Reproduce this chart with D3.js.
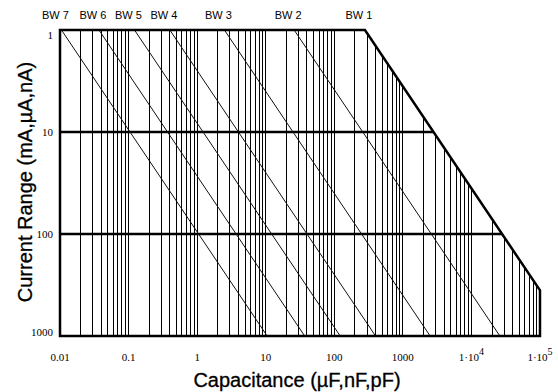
<!DOCTYPE html>
<html>
<head>
<meta charset="utf-8">
<script src="https://cdn.jsdelivr.net/npm/d3@7"></script>
<style>
  body { margin: 0; background: #fff; }
  svg { display: block; }
</style>
</head>
<body>
<svg id="chart" width="558" height="392"></svg>
<script>
// bandwidth lines: capacitance where each one leaves the "1" range
const bwNames = ["BW 1", "BW 2", "BW 3", "BW 4", "BW 5", "BW 6", "BW 7"];
const bwCap = [280, 26, 2.5, 0.4, 0.122, 0.037, 0.0105];

const xTicks = [0.01, 0.1, 1, 10, 100, 1000, 1e4, 1e5];
const xTickLabels = ["0.01", "0.1", "1", "10", "100", "1000", "1·10^4", "1·10^5"];
const yTicks = [1, 10, 100, 1000];
const yTickLabels = ["1", "10", "100", "1000"];
const yGrid = [10, 100];

const xTitle = "Capacitance (µF,nF,pF)";
const yTitle = "Current Range (mA,µA,nA)";

const plot = { left: 60, right: 540, top: 30, bottom: 336 };
const svg = d3.select("#chart");

const x = d3.scaleLog().domain([0.01, 1e5]).range([plot.left, plot.right]);
const y = d3.scaleLog().domain([1, 1000]).range([plot.top, plot.bottom]);
const bw1 = bwCap[0];
const [xMin, xMax] = x.domain();
const [yMin, yMax] = y.domain();

// top edge of the usable area for a capacitance
const limit = c => Math.max(yMin, c / bw1);

addGrid();
addBandLines();
addOutline();
addLabels();

function addGrid() {
    svg.append("g")
        .attr("stroke", "#000")
        .attr("stroke-width", 1)
        .attr("shape-rendering", "crispEdges")
        .selectAll("line")
        .data(x.ticks())
        .join("line")
        .attr("x1", d => x(d))
        .attr("x2", d => x(d))
        .attr("y1", y(yMax))
        .attr("y2", d => y(limit(d)));

    svg.append("g")
        .attr("stroke", "#000")
        .attr("stroke-width", 2.5)
        .selectAll("line")
        .data(yGrid)
        .join("line")
        .attr("x1", x(xMin))
        .attr("x2", d => x(Math.min(xMax, d * bw1)))
        .attr("y1", d => y(d))
        .attr("y2", d => y(d));
}

function addBandLines() {
    const line = d3.line()
        .x(d => x(d[0]))
        .y(d => y(d[1]));
    svg.append("g")
        .attr("fill", "none")
        .attr("stroke", "#111")
        .attr("stroke-width", 1)
        .selectAll("path")
        .data(bwCap.slice(1))
        .join("path")
        .attr("d", c => line([[c, yMin], [c * yMax, yMax]]));
}

function addOutline() {
    const line = d3.line()
        .x(d => x(d[0]))
        .y(d => y(d[1]));
    const pts = [
        [xMin, yMax], [xMin, yMin], [bw1, yMin],
        [xMax, xMax / bw1], [xMax, yMax]
    ];
    svg.append("path")
        .attr("d", line(pts) + "Z")
        .attr("fill", "none")
        .attr("stroke", "#000")
        .attr("stroke-width", 2.5)
        .attr("stroke-linejoin", "miter");
}

function addLabels() {
    svg.append("g")
        .attr("font-family", "'Liberation Sans', Arial, sans-serif")
        .attr("font-size", 11)
        .attr("text-anchor", "middle")
        .selectAll("text")
        .data(bwNames)
        .join("text")
        .attr("x", (d, i) => x(bwCap[i]) - 6)
        .attr("y", 19)
        .text(d => d);

    svg.append("g")
        .attr("font-family", "'Liberation Serif', 'Times New Roman', serif")
        .attr("font-size", 11)
        .attr("text-anchor", "end")
        .selectAll("text")
        .data(yTicks)
        .join("text")
        .attr("x", plot.left - 7)
        .attr("y", d => Math.min(Math.max(y(d), plot.top + 5), plot.bottom - 4))
        .attr("dy", "0.35em")
        .text((d, i) => yTickLabels[i]);

    const xt = svg.append("g")
        .attr("font-family", "'Liberation Serif', 'Times New Roman', serif")
        .attr("font-size", 11)
        .attr("text-anchor", "middle")
        .selectAll("text")
        .data(xTicks)
        .join("text")
        .attr("x", d => x(d))
        .attr("y", 361);
    xt.each(function(d, i) {
        const parts = xTickLabels[i].split("^");
        const t = d3.select(this);
        t.append("tspan").text(parts[0]);
        if (parts[1]) {
            t.append("tspan").attr("dy", -6).attr("font-size", 10).text(parts[1]);
        }
    });

    svg.append("text")
        .attr("x", (plot.left + plot.right) / 2 - 3)
        .attr("y", 387)
        .attr("text-anchor", "middle")
        .attr("font-family", "'Liberation Sans', Arial, sans-serif")
        .attr("font-size", 20)
        .attr("stroke", "#000")
        .attr("stroke-width", 0.3)
        .text(xTitle);

    svg.append("text")
        .attr("transform", "translate(32,182) rotate(-90)")
        .attr("text-anchor", "middle")
        .attr("font-family", "'Liberation Sans', Arial, sans-serif")
        .attr("font-size", 20)
        .attr("stroke", "#000")
        .attr("stroke-width", 0.3)
        .text(yTitle);
}
</script>
</body>
</html>
